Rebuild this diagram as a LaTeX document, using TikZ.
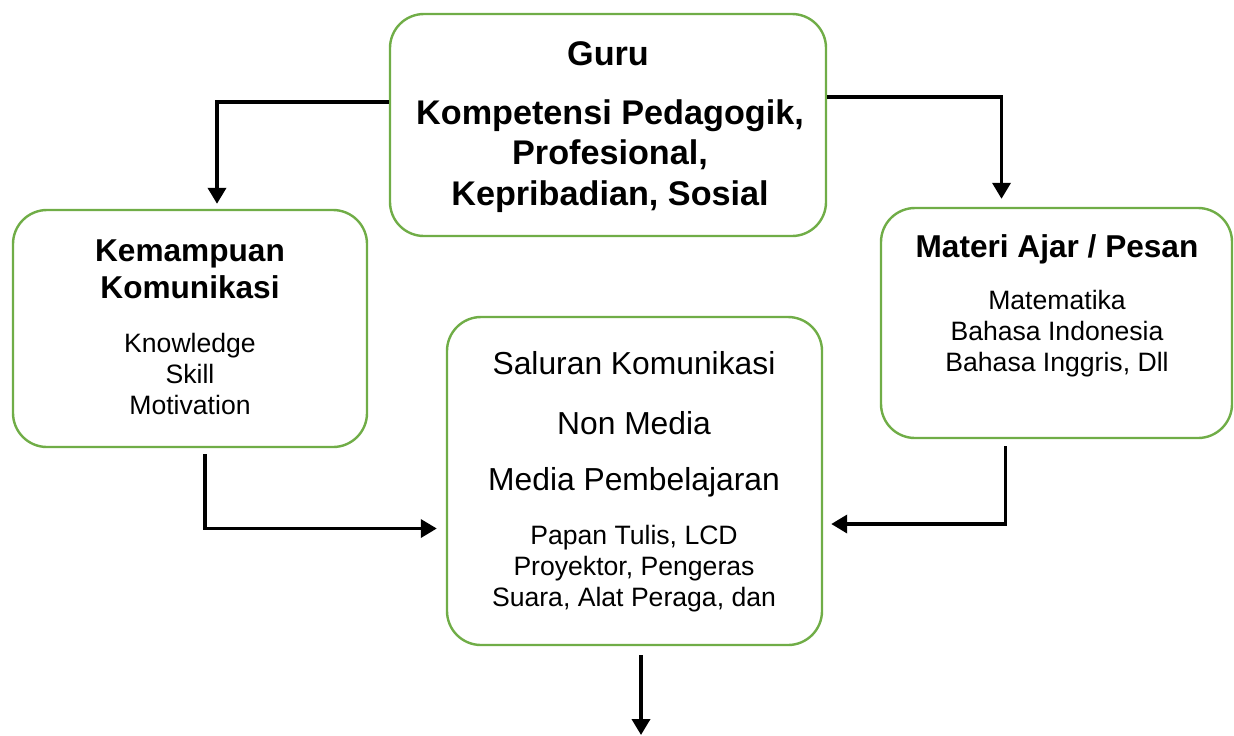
\documentclass[tikz,border=0pt]{standalone}
\usepackage{fontspec}
\setmainfont{Liberation Sans}
\usetikzlibrary{arrows.meta}
\definecolor{boxgreen}{RGB}{112,173,71}
\tikzstyle{box} = [rectangle, rounded corners=17pt, draw=boxgreen, line width=1.2pt, fill=white]
\tikzstyle{title} = [align=center, font=\fontsize{15.8}{18.5}\selectfont\bfseries]
\tikzstyle{guru} = [align=center, font=\fontsize{17.1}{19.5}\selectfont\bfseries]
\tikzstyle{big} = [align=center, font=\fontsize{15.9}{18}\selectfont]
\tikzstyle{small} = [align=center, font=\fontsize{13.3}{15.5}\selectfont]
\tikzstyle{arrow} = [line width=1.8pt, -{Triangle[width=9pt,length=8pt]}]

\begin{document}
\begin{tikzpicture}[x=0.5pt, y=-0.5pt]
    \useasboundingbox (0,0) rectangle (1234,735);
    % boxes
    \node (guruBox) [box, minimum width=218pt, minimum height=111pt] at (608,125) {};
    \node (kemBox) [box, minimum width=177pt, minimum height=118.5pt] at (190,328.5) {};
    \node (matBox) [box, minimum width=175.5pt, minimum height=115pt] at (1056.5,323) {};
    \node (salBox) [box, minimum width=187.5pt, minimum height=164pt] at (634.5,481) {};
    % texts
    \node (guruT) [guru] at (608,54) {Guru};
    \node (guruK) [guru, font=\fontsize{17.1}{20.3}\selectfont\bfseries] at (610,156) {Kompetensi Pedagogik,\\Profesional,\\Kepribadian, Sosial};
    \node (kemT) [title] at (190,269) {Kemampuan\\Komunikasi};
    \node (kemS) [small] at (190,374) {Knowledge\\Skill\\Motivation};
    \node (matT) [title] at (1057,249) {Materi Ajar / Pesan};
    \node (matS) [small] at (1057,334) {Matematika\\Bahasa Indonesia\\Bahasa Inggris, Dll};
    \node (salA) [big] at (634,363) {Saluran Komunikasi};
    \node (salB) [big] at (634,423) {Non Media};
    \node (salC) [big] at (634,482) {Media Pembelajaran};
    \node (salD) [small] at (634,569) {Papan Tulis, LCD\\Proyektor, Pengeras\\Suara, Alat Peraga, dan};
    \coordinate (out) at (641,735);
    % connectors
    \draw [arrow] ([yshift=11.5pt]guruBox.west) -| ([xshift=13.5pt, yshift=2.5pt]kemBox.north);
    \draw [arrow] ([yshift=14pt]guruBox.east) -| ([xshift=-27.5pt, yshift=4pt]matBox.north);
    \draw [arrow] ([xshift=7.5pt, yshift=-3pt]kemBox.south) |- ([xshift=-4.5pt, yshift=-23.75pt]salBox.west);
    \draw [arrow] ([xshift=-25.5pt, yshift=-3.5pt]matBox.south) |- ([xshift=4pt, yshift=-21.5pt]salBox.east);
    \draw [arrow] ([xshift=3.25pt, yshift=-4.5pt]salBox.south) -- (out);
\end{tikzpicture}
\end{document}
